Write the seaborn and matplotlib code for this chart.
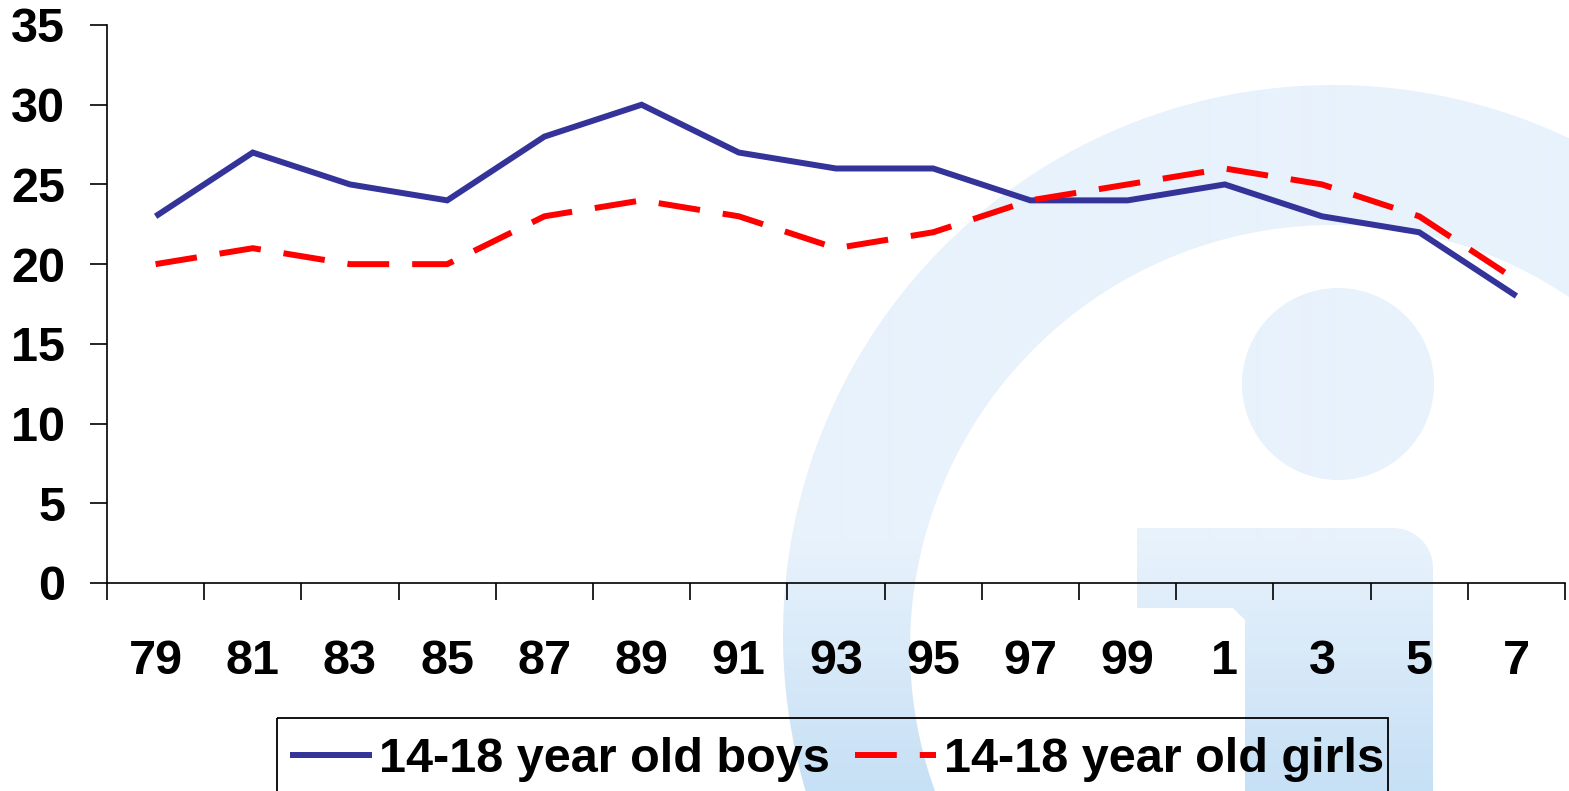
import numpy as np
import pandas as pd
import matplotlib
matplotlib.use("Agg")
import matplotlib.pyplot as plt
from matplotlib.path import Path
from matplotlib.patches import PathPatch, Circle, Rectangle
import seaborn as sns

# ---- data ----
years = ["79", "81", "83", "85", "87", "89", "91", "93", "95", "97", "99", "1", "3", "5", "7"]
boys = [23, 27, 25, 24, 28, 30, 27, 26, 26, 24, 24, 25, 23, 22, 18]
girls = [20, 21, 20, 20, 23, 24, 23, 21, 22, 24, 25, 26, 25, 23, 19]
y_ticks = [0, 5, 10, 15, 20, 25, 30, 35]
series_labels = ["14-18 year old boys", "14-18 year old girls"]

sns.set_style("white")
plt.rcParams["font.family"] = ["Liberation Sans", "DejaVu Sans"]
plt.rcParams["font.weight"] = "bold"
plt.rcParams["text.color"] = "black"
plt.rcParams["xtick.color"] = "black"
plt.rcParams["ytick.color"] = "black"
plt.rcParams["axes.labelcolor"] = "black"

W, H = 1569, 791
fig = plt.figure(figsize=(W / 100, H / 100), dpi=100)
fig.patch.set_facecolor("white")

# ---- watermark background (pixel coordinates) ----
bg = fig.add_axes([0, 0, 1, 1], zorder=0)
bg.set_xlim(0, W)
bg.set_ylim(H, 0)
bg.axis("off")

grad = np.ones((H, 1, 4))
light = np.array([232, 242, 252]) / 255
deep = np.array([198, 224, 245]) / 255
ys = np.arange(H)
t = np.clip((ys - 540) / (H - 540), 0, 1)[:, None]
grad[:, 0, :3] = light[None, :] * (1 - t) + deep[None, :] * t


def circle_pts(cx, cy, r, n=240, reverse=False):
    th = np.linspace(0, 2 * np.pi, n)
    if reverse:
        th = th[::-1]
    return np.column_stack([cx + r * np.cos(th), cy + r * np.sin(th)])


outer = circle_pts(1333, 635, 550)
inner = circle_pts(1333, 648, 423, reverse=True)
verts = np.vstack([outer, inner])
codes = ([Path.MOVETO] + [Path.LINETO] * (len(outer) - 2) + [Path.CLOSEPOLY] +
         [Path.MOVETO] + [Path.LINETO] * (len(inner) - 2) + [Path.CLOSEPOLY])
ring_patch = PathPatch(Path(verts, codes), transform=bg.transData, facecolor="none", edgecolor="none")
bg.add_patch(ring_patch)

dot_patch = Circle((1338, 384), 96, transform=bg.transData, facecolor="none", edgecolor="none")
bg.add_patch(dot_patch)

rc = 40
arc_t = np.linspace(np.pi / 2, 0, 20)
corner = np.column_stack([1433 - rc + rc * np.cos(arc_t), 528 + rc - rc * np.sin(arc_t)])
stem_pts = np.vstack([[[1137, 528]], corner,
                      [[1433, 800], [1245, 800], [1245, 620], [1233, 608], [1137, 608], [1137, 528]]])
stem_codes = [Path.MOVETO] + [Path.LINETO] * (len(stem_pts) - 2) + [Path.CLOSEPOLY]
stem_patch = PathPatch(Path(stem_pts, stem_codes), transform=bg.transData, facecolor="none", edgecolor="none")
bg.add_patch(stem_patch)

for p in (ring_patch, dot_patch, stem_patch):
    im = bg.imshow(grad, extent=[0, W, H, 0], aspect="auto", interpolation="bilinear")
    im.set_clip_path(p)

# legend frame (drawn in pixel coords, runs off the bottom edge like the reference)
bg.add_patch(Rectangle((277, 718), 1388 - 277, 120, facecolor="none", edgecolor="black",
                       linewidth=1.3, zorder=5))

# ---- main chart ----
left, right = 107 / W, 1565 / W
top, bottom = 1 - 25 / H, 1 - 583 / H
ax = fig.add_axes([left, bottom, right - left, top - bottom], zorder=1)
ax.patch.set_alpha(0)

xs = np.arange(len(years))
df = pd.DataFrame({"x": xs, "boys": boys, "girls": girls})

lw = 4.3
sns.lineplot(data=df, x="x", y="boys", ax=ax, color="#333399", linewidth=lw,
             label=series_labels[0], errorbar=None, sort=False)
sns.lineplot(data=df, x="x", y="girls", ax=ax, color="#FF0000", linewidth=lw,
             linestyle=(0, (7.0, 3.85)), label=series_labels[1], errorbar=None, sort=False)
for ln in ax.get_lines():
    ln.set_solid_joinstyle("miter")
    ln.set_dash_capstyle("butt")
    ln.set_solid_capstyle("butt")

ax.set_xlim(-0.5, len(years) - 0.5)
ax.set_ylim(0, 35)
ax.set_xlabel("")
ax.set_ylabel("")

ax.set_yticks(y_ticks)
ax.set_yticklabels([str(v) for v in y_ticks])
ax.set_xticks(xs)
ax.set_xticklabels(years)
ax.set_xticks(np.arange(len(years) + 1) - 0.5, minor=True)

ax.tick_params(axis="y", which="major", direction="out", length=12, width=1.2, color="black",
               pad=18, labelsize=35, left=True, labelcolor="black")
ax.tick_params(axis="x", which="major", length=0, pad=40, labelsize=35, bottom=True, labelcolor="black")
ax.tick_params(axis="x", which="minor", direction="out", length=12, width=1.2, color="black", bottom=True)
for lab in ax.get_xticklabels() + ax.get_yticklabels():
    lab.set_fontweight("bold")

for s in ["top", "right"]:
    ax.spines[s].set_visible(False)
for s in ["left", "bottom"]:
    ax.spines[s].set_color("black")
    ax.spines[s].set_linewidth(1.2)

handles, labels = ax.get_legend_handles_labels()
if ax.get_legend() is not None:
    ax.get_legend().remove()
leg = fig.legend(handles, labels, loc="upper left", bbox_to_anchor=(290 / W, 1 - 737 / H),
                 bbox_transform=fig.transFigure, ncol=2, frameon=False,
                 prop={"size": 35, "weight": "bold"}, handlelength=1.68, handletextpad=0.16,
                 columnspacing=0.5, borderpad=0, borderaxespad=0)
for txt in leg.get_texts():
    txt.set_color("black")
leg.set_zorder(6)

fig.savefig("out.png", dpi=100, facecolor="white")
